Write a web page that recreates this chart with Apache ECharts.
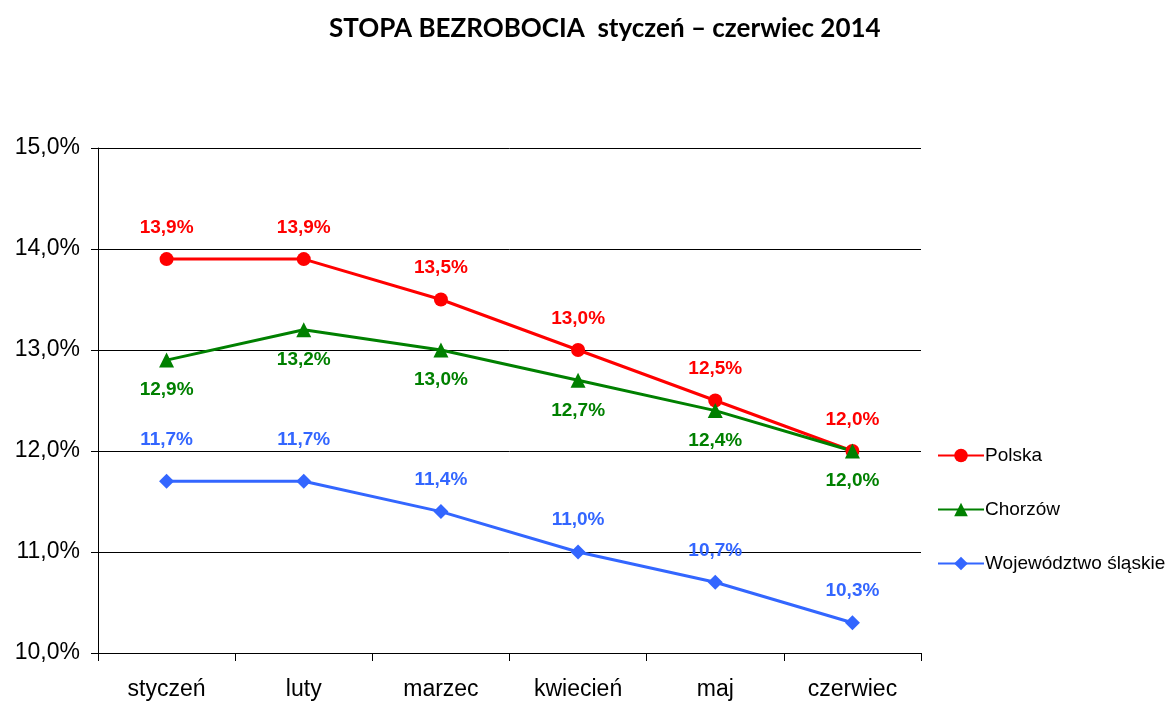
<!DOCTYPE html>
<html><head><meta charset="utf-8">
<script src="https://cdn.jsdelivr.net/npm/echarts@6/dist/echarts.min.js"></script>
<style>html,body{margin:0;padding:0;background:#fff}#c{width:1176px;height:702px}</style>
</head><body><div id="c"></div>
<script>
const categories = ['styczeń','luty','marzec','kwiecień','maj','czerwiec'];
const polska = [13.9, 13.9, 13.5, 13.0, 12.5, 12.0];
const chorzow = [12.9, 13.2, 13.0, 12.7, 12.4, 12.0];
const slaskie = [11.7, 11.7, 11.4, 11.0, 10.7, 10.3];
const seriesNames = ['Polska', 'Chorzów', 'Województwo śląskie'];
const titleText = 'STOPA BEZROBOCIA  styczeń – czerwiec 2014';

const fmt = v => v.toFixed(1).replace('.', ',') + '%';
const labelFont = {fontFamily:'Liberation Sans, Arial', fontWeight:'bold', fontSize:19};

function mk(name, data, color, symbol, size, pos, dist, extra) {
  return {
    name, type:'line', data: data.map((v,i)=>{
      const d = {value:v};
      if (extra && extra[i] !== undefined) d.label = {distance: extra[i]};
      return d;
    }),
    symbol, symbolSize:size, color,
    lineStyle:{width:3, color},
    itemStyle:{color},
    label:{show:true, position:pos, distance:dist, color, ...labelFont,
      formatter:p=>fmt(p.value)},
    animation:false
  };
}

const chart = echarts.init(document.getElementById('c'));
chart.setOption({
  backgroundColor:'#fff',
  title:{text:titleText, left:324, top:11,
    textStyle:{fontFamily:'Lato, Open Sans, sans-serif', fontWeight:'bold', fontSize:26, color:'#000'}},
  grid:{left:98, right:255, top:148, bottom:49},
  legend:{orient:'vertical', left:932, top:441, itemGap:35, itemWidth:46, itemHeight:17,
    data:seriesNames,
    textStyle:{fontFamily:'Liberation Sans, Arial', fontSize:19, color:'#000', padding:[0,0,0,-4]}},
  xAxis:{type:'category', data:categories, boundaryGap:true,
    axisLine:{lineStyle:{color:'#000', width:1}},
    axisTick:{show:true, length:8, lineStyle:{color:'#000'}},
    axisLabel:{fontFamily:'Liberation Sans, Arial', fontSize:23, color:'#000', margin:25}},
  yAxis:{type:'value', min:10, max:15, interval:1,
    axisLine:{show:true, lineStyle:{color:'#000', width:1}},
    axisTick:{show:true, length:7, lineStyle:{color:'#000'}},
    splitLine:{lineStyle:{color:'#000', width:1}},
    axisLabel:{fontFamily:'Liberation Sans, Arial', fontSize:23, color:'#000', margin:18,
      formatter:v=>fmt(v)}},
  series:[
    mk(seriesNames[0], polska, '#FF0000', 'circle', 14, 'top', 15),
    mk(seriesNames[1], chorzow, '#008000', 'triangle', 15, 'bottom', 13),
    mk(seriesNames[2], slaskie, '#3366FF', 'diamond', 15, 'top', 15, [25, 25])
  ]
});
</script></body></html>
